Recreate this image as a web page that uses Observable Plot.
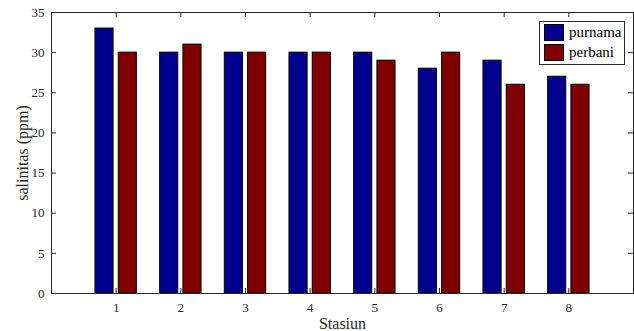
<!DOCTYPE html>
<html>
<head>
<meta charset="utf-8">
<script src="https://cdn.jsdelivr.net/npm/d3@7"></script>
<script src="https://cdn.jsdelivr.net/npm/@observablehq/plot@0.6"></script>
<style>
  html, body { margin: 0; padding: 0; background: #fff; }
  #wrap { position: relative; width: 634px; height: 331px; font-family: "Liberation Serif", "DejaVu Serif", serif; }
  #legend { position: absolute; left: 539px; top: 21px; width: 86px; height: 44px; border: 1px solid #262626; background: #fff; box-sizing: border-box; font-size: 15px; }
  .item { position: absolute; left: 4px; display: flex; align-items: center; }
  .sw { width: 20px; height: 17px; border: 1px solid #000; box-sizing: border-box; margin-right: 5px; }
</style>
</head>
<body>
<div id="wrap"></div>
<script>
const stations = [1, 2, 3, 4, 5, 6, 7, 8];
const purnama = [33, 30, 30, 30, 30, 28, 29, 27];
const perbani = [30, 31, 30, 30, 29, 30, 26, 26];
const seriesNames = ["purnama", "perbani"];
const seriesColors = ["#00008f", "#800000"];
const yTicks = [0, 5, 10, 15, 20, 25, 30, 35];
const xTicks = stations;

const barW = 0.28, off = 0.18;
const data = [];
stations.forEach((s, i) => {
  data.push({st: s, v: purnama[i], k: 0});
  data.push({st: s, v: perbani[i], k: 1});
});

const W = 634, H = 331, mL = 51, mR = 1, mT = 12, mB = 38;
const pw = W - mL - mR, ph = H - mT - mB;
const axisColor = "#262626";

const chart = Plot.plot({
  width: W, height: H,
  marginLeft: mL, marginRight: mR, marginTop: mT, marginBottom: mB,
  style: {fontFamily: "Liberation Serif, serif", fontSize: "13px", color: "#262626", background: "#fff"},
  x: {domain: [0, 9]},
  y: {domain: [0, 35]},
  marks: [
    Plot.rectY(data, {
      x1: d => d.st + (d.k === 0 ? -off : off) - barW / 2,
      x2: d => d.st + (d.k === 0 ? -off : off) + barW / 2,
      y1: 0, y2: "v",
      fill: d => seriesColors[d.k], stroke: "#000", strokeWidth: 1
    }),
    Plot.frame({stroke: axisColor}),
    Plot.tickY(yTicks, {y: d => d, stroke: axisColor, insetRight: pw - 5}),
    Plot.tickY(yTicks, {y: d => d, stroke: axisColor, insetLeft: pw - 5}),
    Plot.tickX(xTicks, {x: d => d, stroke: axisColor, insetTop: ph - 5}),
    Plot.tickX(xTicks, {x: d => d, stroke: axisColor, insetBottom: ph - 5}),
    Plot.axisY({ticks: yTicks, tickSize: 0, tickPadding: 7, fontSize: 13,
      label: "salinitas (ppm)", labelAnchor: "center", labelArrow: "none", labelOffset: 35}),
    Plot.axisX({ticks: xTicks, tickSize: 0, tickPadding: 9, fontSize: 13,
      label: "Stasiun", labelAnchor: "center", labelArrow: "none", labelOffset: 35})
  ]
});
chart.querySelectorAll("g[aria-label='y-axis label'] text, g[aria-label='x-axis label'] text").forEach(t => t.setAttribute("font-size", "16"));
const wrap = document.getElementById("wrap");
wrap.appendChild(chart);

const leg = document.createElement("div");
leg.id = "legend";
seriesNames.forEach((n, i) => {
  const it = document.createElement("div");
  it.className = "item";
  it.style.top = (i === 0 ? 2 : 22) + "px";
  const sw = document.createElement("div");
  sw.className = "sw";
  sw.style.background = seriesColors[i];
  const tx = document.createElement("span");
  tx.textContent = n;
  it.appendChild(sw); it.appendChild(tx);
  leg.appendChild(it);
});
wrap.appendChild(leg);
</script>
</body>
</html>
